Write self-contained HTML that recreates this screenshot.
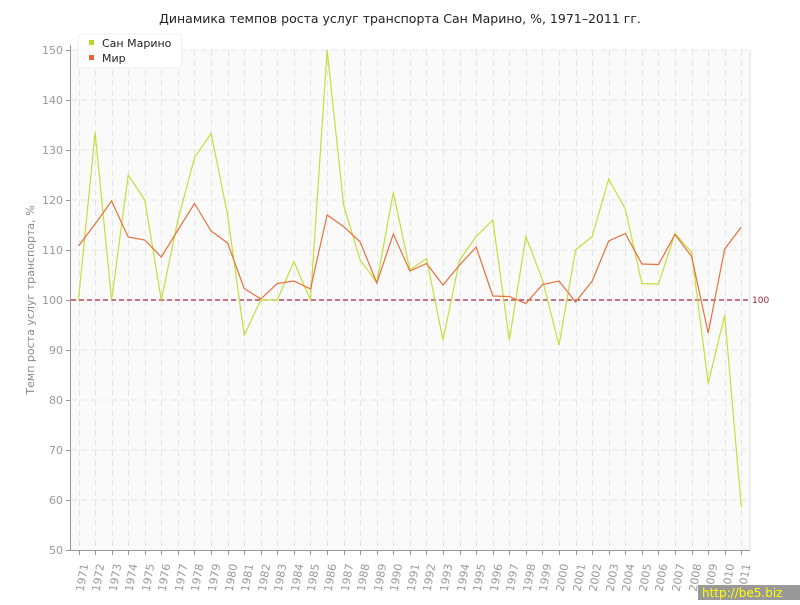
<!DOCTYPE html>
<html><head><meta charset="utf-8"><style>
body{margin:0;background:#fff;width:800px;height:600px;overflow:hidden;font-family:"Liberation Sans","DejaVu Sans",sans-serif}
</style></head><body>
<svg id="s" width="800" height="600" xmlns="http://www.w3.org/2000/svg" font-family="DejaVu Sans, Liberation Sans, sans-serif">
<rect width="800" height="600" fill="#fff"/>
<text x="400" y="23" text-anchor="middle" font-size="12.5" fill="#222">Динамика темпов роста услуг транспорта Сан Марино, %, 1971–2011 гг.</text>
<rect x="71" y="50" width="679" height="500" fill="#fafafa"/>
<line x1="750" y1="50" x2="750" y2="550" stroke="#ddd"/>
<g id="grid"></g>
<line x1="71" y1="300" x2="750" y2="300" stroke="#a0283c" stroke-dasharray="5,3" stroke-width="1.2"/>
<text x="752" y="303" font-size="9" fill="#a0283c">100</text>
<line x1="70.5" y1="45" x2="70.5" y2="550" stroke="#999"/>
<line x1="70" y1="550.5" x2="750" y2="550.5" stroke="#999"/>
<g id="lbl" font-size="11" fill="#999"></g>
<text transform="translate(34,300) rotate(-90)" text-anchor="middle" font-size="11" fill="#888">Темп роста услуг транспорта, %</text>
<polyline id="sm" fill="none" stroke="#c3df3a" stroke-width="1.2"/>
<polyline id="w" fill="none" stroke="#e8703c" stroke-width="1.2"/>
<rect x="78" y="34" width="104" height="34" rx="4" fill="#fff" stroke="#eee"/>
<rect x="89" y="40" width="5" height="5" fill="#b5d92a"/>
<text x="102" y="47" font-size="11" fill="#222">Сан Марино</text>
<rect x="89" y="55" width="5" height="5" fill="#e8642c"/>
<text x="102" y="62" font-size="11" fill="#222">Мир</text>
<rect x="698" y="585" width="102" height="15" fill="#999"/>
<text x="702" y="597" font-size="12" fill="#ff0">http://be5.biz</text>
</svg>
<script>
var ns="http://www.w3.org/2000/svg",s=document.getElementById('s');
var g=document.getElementById('grid'),l=document.getElementById('lbl');
function el(p,t,a){var e=document.createElementNS(ns,t);for(var k in a)e.setAttribute(k,a[k]);p.appendChild(e);return e;}
function X(i){return 78.5+i*16.57;}function Y(v){return 550-(v-50)*5;}
for(var v=50;v<=150;v+=10){var y=Y(v);if(v>50)el(g,'line',{x1:71,y1:y,x2:750,y2:y,stroke:'#e4e4e4','stroke-dasharray':'6,4'});
el(l,'line',{x1:66,y1:y+.5,x2:71,y2:y+.5,stroke:'#999'});var t=el(l,'text',{x:63,y:y+4,'text-anchor':'end'});t.textContent=v;}
for(var i=0;i<41;i++){var x=Math.round(X(i))+.5;el(g,'line',{x1:x,y1:50,x2:x,y2:550,stroke:'#e4e4e4','stroke-dasharray':'6,4'});
el(l,'line',{x1:x,y1:550,x2:x,y2:555,stroke:'#999'});var t=el(l,'text',{transform:'translate('+(x+4)+',592) rotate(-80)','font-size':'11'});t.textContent=1971+i;}
var sm=[100,133.5,100,125,120,100,116,128.5,133.3,117,93,100,100,107.7,100,150,119,108,103.5,121.5,106,108.3,92,108,112.7,116,92,112.7,104,91,110,112.7,124.2,118.2,103.3,103.2,113.3,109.5,83.3,97,58.5];
var w=[110.8,115.2,119.8,112.6,112,108.6,114,119.3,113.8,111.4,102.3,100.2,103.3,103.8,102.2,117,114.7,111.6,103.4,113.2,105.8,107.3,103,107,110.6,100.8,100.7,99.3,103.1,103.8,99.6,103.8,111.8,113.3,107.2,107.1,113.1,108.7,93.4,110.2,114.6];
function pts(a){return a.map(function(v,i){return X(i).toFixed(1)+','+Y(v).toFixed(1)}).join(' ');}
document.getElementById('sm').setAttribute('points',pts(sm));
document.getElementById('w').setAttribute('points',pts(w));
</script>
</body></html>
